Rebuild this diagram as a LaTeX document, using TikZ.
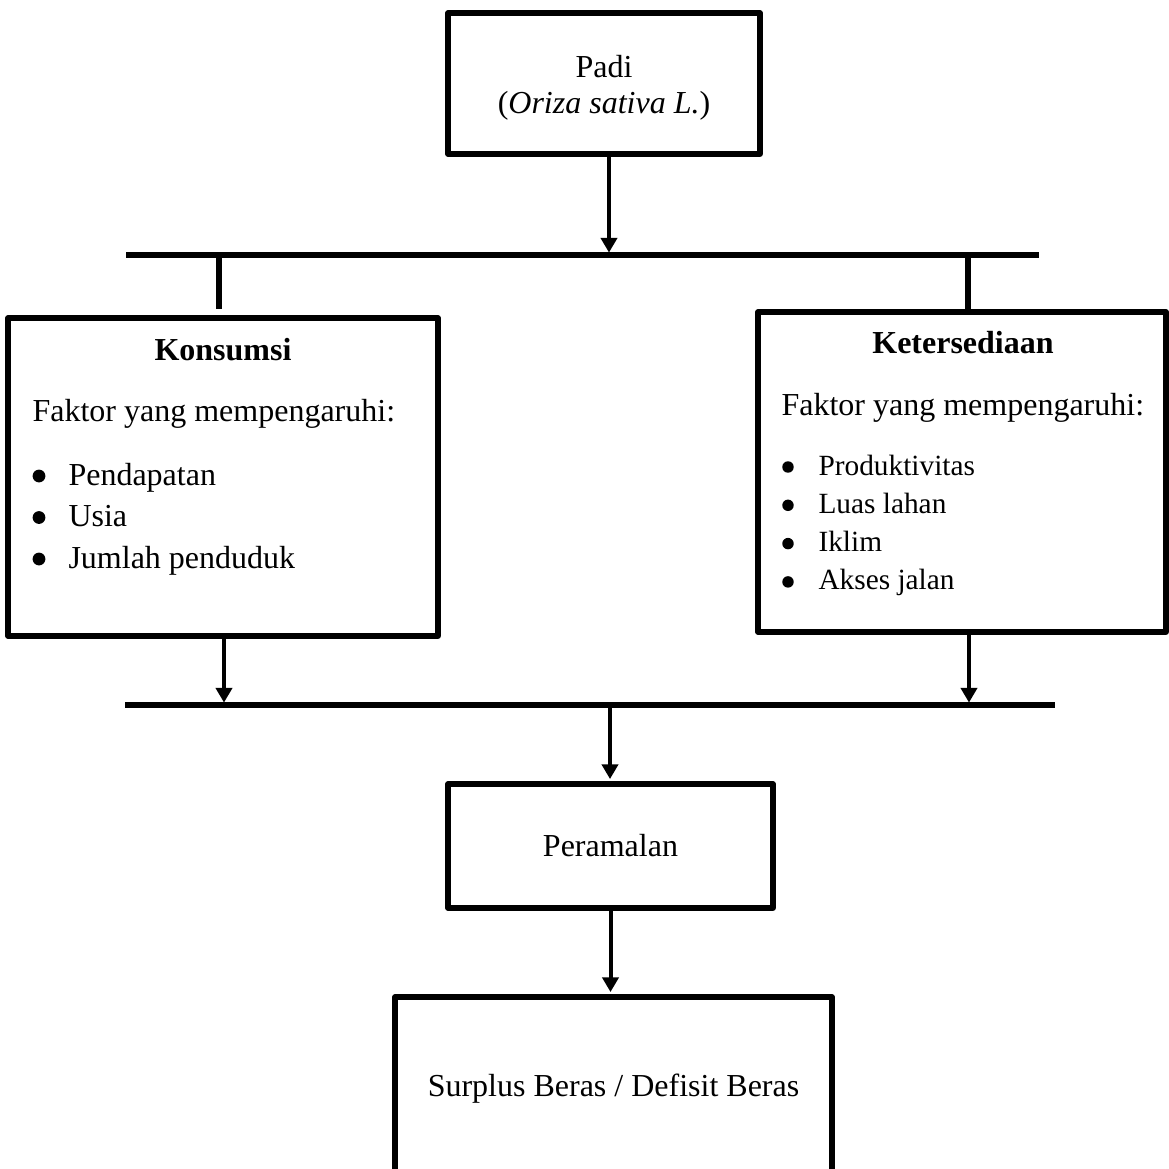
\documentclass[tikz,border=0pt]{standalone}
\usepackage{fontspec}
\setmainfont{Liberation Serif}
\usetikzlibrary{positioning, arrows.meta}
\newcommand{\pxu}{0.375pt}

\begin{document}
\begin{tikzpicture}[
        x=\pxu, y=-\pxu,
        box/.style={draw=black, line width=1.9pt, line join=round, inner sep=0pt, align=center, font=\fontsize{12}{13.5}\selectfont},
        bus/.style={line width=1.9pt},
        arrow/.style={-{Triangle[length=5.5pt, width=6pt]}, line width=1.5pt, shorten >=0.9pt},
        boxtitle/.style={font=\fontsize{12}{14}\selectfont\bfseries, anchor=base, inner sep=0pt},
        centertext/.style={font=\fontsize{12}{14}\selectfont, anchor=base, inner sep=0pt},
        body/.style={font=\fontsize{12}{14}\selectfont, anchor=base west, inner sep=0pt},
        itemsmall/.style={font=\fontsize{11}{13}\selectfont, anchor=base west, inner sep=0pt},
        bul/.style={circle, fill=black, inner sep=0pt, minimum size=#1},
        bul/.default=4.8pt
        ]
        \useasboundingbox (0,0) rectangle (1169,1169);

        % Boxes
        \node[box, minimum width=312*\pxu, minimum height=141*\pxu] (padi) at (604,83.5) {};
        \node[box, minimum width=430*\pxu, minimum height=318*\pxu] (kons) at (223,477) {};
        \node[box, minimum width=408*\pxu, minimum height=320*\pxu] (keter) at (962,472) {};
        \node[box, minimum width=325*\pxu, minimum height=124*\pxu] (peram) at (610.5,846) {Peramalan};
        \node[box, minimum width=437*\pxu, minimum height=184*\pxu] (surplus) at (613.5,1089) {Surplus Beras / Defisit Beras};

        % Padi
        \node[centertext] (padiA) at (604,77) {Padi};
        \node[centertext] (padiB) at (604,113) {(\textit{Oriza sativa L.})};

        % Konsumsi
        \node[boxtitle] (konsT) at (223,360) {Konsumsi};
        \node[body] (konsF) at (32,421) {Faktor yang mempengaruhi:};
        \foreach \t [count=\i] in {Pendapatan, Usia, Jumlah penduduk} {
            \node[bul] (konsB\i) at (39, {476+41.5*(\i-1)}) {};
            \node[body] (konsI\i) at (68, {485+41.5*(\i-1)}) {\t};
        }

        % Ketersediaan
        \node[boxtitle] (keterT) at (963,353) {Ketersediaan};
        \node[body] (keterF) at (781,415) {Faktor yang mempengaruhi:};
        \foreach \t [count=\i] in {Produktivitas, Luas lahan, Iklim, Akses jalan} {
            \node[bul=4.3pt] (keterB\i) at (788, {467+38.3*(\i-1)}) {};
            \node[itemsmall] (keterI\i) at (818, {475+38.3*(\i-1)}) {\t};
        }

        % Bus lines
        \coordinate (topW) at (126,255);
        \coordinate (topE) at (1039,255);
        \coordinate (topL) at (219,255);
        \coordinate (topR) at (968,255);
        \coordinate (topM) at (609,255);
        \coordinate (botW) at (125,705);
        \coordinate (botE) at (1055,705);
        \coordinate (botL) at (224,705);
        \coordinate (botR) at (969,705);
        \coordinate (botM) at (610,705);
        \draw[bus] (topW) -- (topE);
        \draw[bus] (botW) -- (botE);

        % Connections
        \draw[arrow] (padi.south -| topM) -- (topM);
        \draw[bus, shorten >=2.5pt] (topL) -- (kons.north -| topL);
        \draw[bus] (topR) -- (keter.north -| topR);
        \draw[arrow] (kons.south -| botL) -- (botL);
        \draw[arrow] (keter.south -| botR) -- (botR);
        \draw[arrow] (botM) -- (peram.north -| botM);
        \draw[arrow] (peram.south) -- (surplus.north -| peram.south);

    \end{tikzpicture}
\end{document}
